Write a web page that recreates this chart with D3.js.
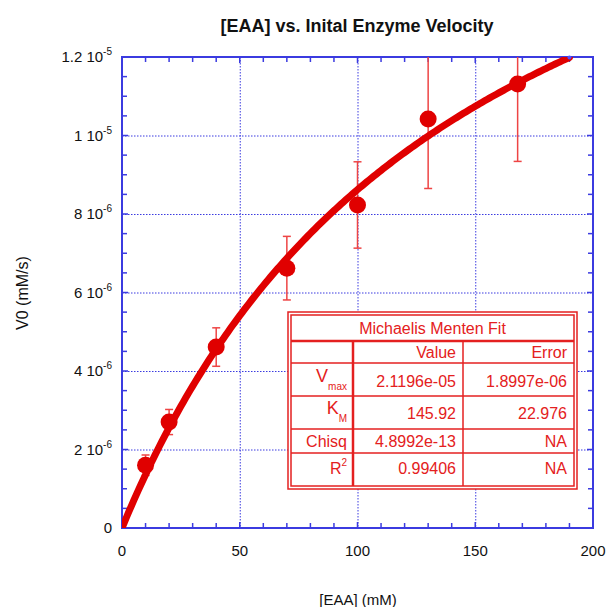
<!DOCTYPE html>
<html>
<head>
<meta charset="utf-8">
<script src="https://cdn.jsdelivr.net/npm/d3@7"></script>
<style>
  body { margin: 0; background: #fff; }
  svg { font-family: "Liberation Sans", Arial, sans-serif; }
</style>
</head>
<body>
<svg id="chart" width="608" height="607"></svg>
<script>
// data
const concentration = [10, 20, 40, 70, 100, 130, 168]
const velocity = [1.60e-6, 2.70e-6, 4.61e-6, 6.62e-6, 8.23e-6, 1.042e-5, 1.131e-5]
const velocityError = [0.26e-6, 0.32e-6, 0.49e-6, 0.81e-6, 1.10e-6, 1.77e-6, 1.97e-6]

// Michaelis-Menten fit (from the table) and the range it was drawn over
const fitVmax = 2.1196e-5
const fitKm = 145.92
const fitRange = [0, 190]

const xTickValues = [0, 50, 100, 150, 200]
const yTickValues = [0, 2e-6, 4e-6, 6e-6, 8e-6, 1e-5, 1.2e-5]
const yTickMantissa = ['0', '2', '4', '6', '8', '1', '1.2']
const yTickExponent = ['', '-6', '-6', '-6', '-6', '-5', '-5']

const tableTitle = 'Michaelis Menten Fit'
const tableHeader = ['', 'Value', 'Error']
const tableRows = [
  { name: 'V', sub: 'max', value: '2.1196e-05', error: '1.8997e-06' },
  { name: 'K', sub: 'M', value: '145.92', error: '22.976' },
  { name: 'Chisq', value: '4.8992e-13', error: 'NA' },
  { name: 'R', sup: '2', value: '0.99406', error: 'NA' }
]

const svg = d3.select('#chart')
const plotL = 122, plotR = 593, plotT = 57, plotB = 528
const blue = '#3b3be0'
const red = '#e00000'

const x = d3.scaleLinear().domain([0, 200]).range([plotL, plotR])
const y = d3.scaleLinear().domain([0, 1.2e-5]).range([plotB, plotT])

svg.append('defs').append('clipPath').attr('id', 'plotClip')
  .append('rect').attr('x', plotL).attr('y', plotT).attr('width', plotR - plotL).attr('height', plotB - plotT)

// grid
const grid = svg.append('g').attr('stroke', blue).attr('stroke-width', 1).attr('stroke-dasharray', '1.5,1.5')
grid.selectAll('.gx').data(xTickValues.slice(1, -1)).enter().append('line')
  .attr('x1', d => x(d) + 0.5).attr('x2', d => x(d) + 0.5).attr('y1', plotT).attr('y2', plotB)
grid.selectAll('.gy').data(yTickValues.slice(1, -1)).enter().append('line')
  .attr('y1', d => y(d) + 0.5).attr('y2', d => y(d) + 0.5).attr('x1', plotL).attr('x2', plotR)

// minor + major ticks, inward on all four sides
const ticks = svg.append('g').attr('stroke', blue).attr('stroke-width', 1.5)
const xMinor = d3.range(0, 201, 10)
const yMinor = d3.range(0, 24).map(i => i * 0.5e-6)
xMinor.forEach(v => {
  const len = v % 50 === 0 ? 6 : 5
  ticks.append('line').attr('x1', x(v)).attr('x2', x(v)).attr('y1', plotB).attr('y2', plotB - len)
  ticks.append('line').attr('x1', x(v)).attr('x2', x(v)).attr('y1', plotT).attr('y2', plotT + len)
})
yMinor.forEach((v, i) => {
  const len = i % 4 === 0 ? 6 : 5
  ticks.append('line').attr('y1', y(v)).attr('y2', y(v)).attr('x1', plotL).attr('x2', plotL + len)
  ticks.append('line').attr('y1', y(v)).attr('y2', y(v)).attr('x1', plotR).attr('x2', plotR - len)
})

// frame
svg.append('rect').attr('x', plotL).attr('y', plotT).attr('width', plotR - plotL).attr('height', plotB - plotT)
  .attr('fill', 'none').attr('stroke', blue).attr('stroke-width', 2)

// fit curve
const fitX = d3.range(fitRange[0], fitRange[1] + 0.5, 1)
const line = d3.line().x(d => x(d)).y(d => y(fitVmax * d / (fitKm + d)))
const plot = svg.append('g').attr('clip-path', 'url(#plotClip)')

// error bars
const bars = plot.append('g').attr('stroke', '#ee4444').attr('stroke-width', 1.5)
concentration.forEach((c, i) => {
  const y1 = y(velocity[i] + velocityError[i]), y2 = y(velocity[i] - velocityError[i])
  bars.append('line').attr('x1', x(c)).attr('x2', x(c)).attr('y1', y1).attr('y2', y2)
  bars.append('line').attr('x1', x(c) - 4).attr('x2', x(c) + 4).attr('y1', y1).attr('y2', y1)
  bars.append('line').attr('x1', x(c) - 4).attr('x2', x(c) + 4).attr('y1', y2).attr('y2', y2)
})

plot.append('path').datum(fitX).attr('d', line)
  .attr('fill', 'none').attr('stroke', red).attr('stroke-width', 7).attr('stroke-linecap', 'round')

plot.selectAll('circle.pt').data(concentration).enter().append('circle')
  .attr('cx', d => x(d)).attr('cy', (d, i) => y(velocity[i])).attr('r', 8.5).attr('fill', red)

svg.append('circle').attr('cx', x(fitRange[1])).attr('cy', y(fitVmax * fitRange[1] / (fitKm + fitRange[1])))
  .attr('r', 2).attr('fill', '#5050ff')

// axis labels
const textColor = '#111'
svg.selectAll('.xl').data(xTickValues).enter().append('text')
  .attr('x', d => x(d)).attr('y', 556).attr('text-anchor', 'middle')
  .attr('font-size', 15).attr('fill', textColor).text(d => d)

yTickValues.forEach((v, i) => {
  const t = svg.append('text').attr('x', 112).attr('y', y(v) + 5)
    .attr('text-anchor', 'end').attr('font-size', 15).attr('fill', textColor)
  if (yTickExponent[i]) {
    t.append('tspan').text(yTickMantissa[i] + ' 10')
    t.append('tspan').attr('font-size', 10).attr('dy', -7).text(yTickExponent[i])
  } else {
    t.text(yTickMantissa[i])
  }
})

svg.append('text').attr('x', 357).attr('y', 32).attr('text-anchor', 'middle')
  .attr('font-size', 18).attr('font-weight', 'bold').attr('fill', textColor)
  .text('[EAA] vs. Inital Enzyme Velocity')

svg.append('text').attr('x', 358).attr('y', 605).attr('text-anchor', 'middle')
  .attr('font-size', 15).attr('fill', textColor).text('[EAA] (mM)')

svg.append('text').attr('transform', 'translate(28,293) rotate(-90)').attr('text-anchor', 'middle')
  .attr('font-size', 16).attr('fill', textColor).text('V0 (mM/s)')

// fit table
const tbl = svg.append('g')
const tLeft = 291, tRight = 574, tTop = 315
const rowEdges = [315, 341, 363, 396, 429, 453, 486]
const colEdges = [291, 353, 463, 574]
const tRed = '#e42020'
const tFont = 16
tbl.append('rect').attr('x', 288).attr('y', 312).attr('width', 289).attr('height', 177)
  .attr('fill', '#fff').attr('stroke', tRed).attr('stroke-width', 1.5)
tbl.append('rect').attr('x', tLeft).attr('y', tTop).attr('width', tRight - tLeft).attr('height', rowEdges[6] - tTop)
  .attr('fill', 'none').attr('stroke', tRed).attr('stroke-width', 1.5)
rowEdges.slice(1, -1).forEach((r, i) => {
  tbl.append('line').attr('x1', tLeft).attr('x2', tRight).attr('y1', r).attr('y2', r)
    .attr('stroke', tRed).attr('stroke-width', i === 0 ? 2.5 : 1.5)
})
colEdges.slice(1, -1).forEach((c, i) => {
  tbl.append('line').attr('x1', c).attr('x2', c).attr('y1', rowEdges[1]).attr('y2', rowEdges[6])
    .attr('stroke', tRed).attr('stroke-width', i === 0 ? 2.5 : 1.5)
})

const cellText = (tx, ty, s) => tbl.append('text').attr('x', tx).attr('y', ty)
  .attr('text-anchor', 'end').attr('font-size', tFont).attr('fill', tRed).text(s)

tbl.append('text').attr('x', (tLeft + tRight) / 2).attr('y', 334).attr('text-anchor', 'middle')
  .attr('font-size', tFont).attr('fill', tRed).text(tableTitle)
cellText(456, 358, tableHeader[1])
cellText(567, 358, tableHeader[2])

const rowBase = [387, 419, 447, 474]
tableRows.forEach((r, i) => {
  const b = rowBase[i]
  if (r.sub) {
    const t = tbl.append('text').attr('x', 347).attr('y', b - 5).attr('text-anchor', 'end')
      .attr('font-size', 18).attr('fill', tRed)
    t.append('tspan').text(r.name)
    t.append('tspan').attr('font-size', 10).attr('dy', 8).text(r.sub)
  } else if (r.sup) {
    const t = tbl.append('text').attr('x', 347).attr('y', b).attr('text-anchor', 'end')
      .attr('font-size', tFont).attr('fill', tRed)
    t.append('tspan').text(r.name)
    t.append('tspan').attr('font-size', 10).attr('dy', -8).text(r.sup)
  } else {
    cellText(347, b, r.name)
  }
  cellText(456, b, r.value)
  cellText(567, b, r.error)
})
</script>
</body>
</html>
